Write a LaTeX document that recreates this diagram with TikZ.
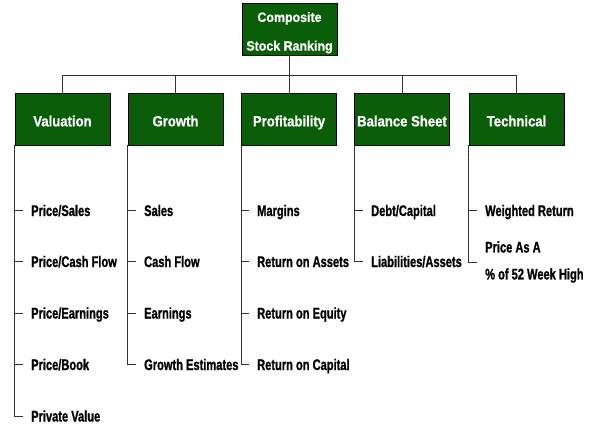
\documentclass[tikz,border=0pt]{standalone}
\usepackage{fontspec}
\setmainfont{Liberation Sans}
% condensed, heavy bold sans faces for the three text levels
\newfontfamily\itemfont{Liberation Sans}[UprightFont={* Bold}, FakeStretch=0.72, FakeBold=1]
\newfontfamily\headfont{Liberation Sans}[UprightFont={* Bold}, FakeStretch=0.88, FakeBold=0.8]
\newfontfamily\topfont{Liberation Sans}[UprightFont={* Bold}, FakeStretch=0.92, FakeBold=0.8]
\definecolor{boxgreen}{RGB}{10,94,8}
\begin{document}
\begin{tikzpicture}[x=1bp,y=-1bp,
  greenbox/.style={draw=black, line width=0.7bp, fill=boxgreen, text=white,
    minimum width=95bp, minimum height=52bp, inner sep=0pt},
  catbox/.style={greenbox,
    font=\headfont\fontsize{14.9bp}{17bp}\selectfont,
    text height=14.7bp, text depth=0pt},
  toptext/.style={text=white, inner sep=0pt, align=center,
    font=\topfont\fontsize{13.5bp}{16bp}\selectfont},
  itemtext/.style={anchor=west, inner sep=0pt,
    font=\itemfont\fontsize{15.4bp}{18bp}\selectfont},
  item/.style={itemtext, text height=11bp, text depth=0pt},
  link/.style={draw=black!80, line width=0.8bp}]
\useasboundingbox (0,0) rectangle (594,425);

% root
\node[greenbox] (top) at (289.5,29) {};
\node[toptext] (toplbl) at (289.5,32.75) {Composite\\[12.7bp]Stock Ranking};

% categories
\node[catbox] (val)  at (62.5,119)  {Valuation};
\node[catbox] (grow) at (175.5,119) {Growth};
\node[catbox] (prof) at (289,119)   {Profitability};
\node[catbox] (bal)  at (402,119)   {Balance Sheet};
\node[catbox] (tech) at (516.5,119) {Technical};

% bus between root and categories
\coordinate (bus) at (0,75);
\draw[link] (top.south) -- (top.south |- bus);
\draw[link] (val.north) -- (val.north |- bus) -- (tech.north |- bus) -- (tech.north);
\foreach \n in {grow,prof,bal}
  \draw[link] (\n.north) -- (\n.north |- bus);

% Valuation
\node[item] (v1) at (31,210.5) {Price/Sales};
\node[item] (v2) at (31,261.5) {Price/Cash Flow};
\node[item] (v3) at (31,313)   {Price/Earnings};
\node[item] (v4) at (31,364.5) {Price/Book};
\node[item] (v5) at (31,416)   {Private Value};

% Growth
\node[item] (g1) at (144,210.5) {Sales};
\node[item] (g2) at (144,261.5) {Cash Flow};
\node[item] (g3) at (144,313)   {Earnings};
\node[item] (g4) at (144,364.5) {Growth Estimates};

% Profitability
\node[item] (p1) at (257,210.5) {Margins};
\node[item] (p2) at (257,261.5) {Return on Assets};
\node[item] (p3) at (257,313)   {Return on Equity};
\node[item] (p4) at (257,364.5) {Return on Capital};

% Balance Sheet
\node[item] (b1) at (371,210.5) {Debt/Capital};
\node[item] (b2) at (371,261.5) {Liabilities/Assets};

% Technical
\node[item] (t1) at (485,210.5) {Weighted Return};
\node[itemtext, align=left] (t2) at (485,262) {Price As A\\[9bp]\% of 52 Week High};

% tree lines: spine down the left edge of each box, ticks to each entry
\draw[link] (val.south west)  |- ([xshift=-8bp]v5.west);
\draw[link] (grow.south west) |- ([xshift=-8bp]g4.west);
\draw[link] (prof.south west) |- ([xshift=-8bp]p4.west);
\draw[link] (bal.south west)  |- ([xshift=-8bp]b2.west);
\draw[link] (tech.south west) |- ([xshift=-8bp]t2.west);
\foreach \n in {v1,v2,v3,v4,g1,g2,g3,p1,p2,p3,b1,t1}
  \draw[link] ([xshift=-16bp]\n.west) -- ([xshift=-8bp]\n.west);
\end{tikzpicture}
\end{document}
